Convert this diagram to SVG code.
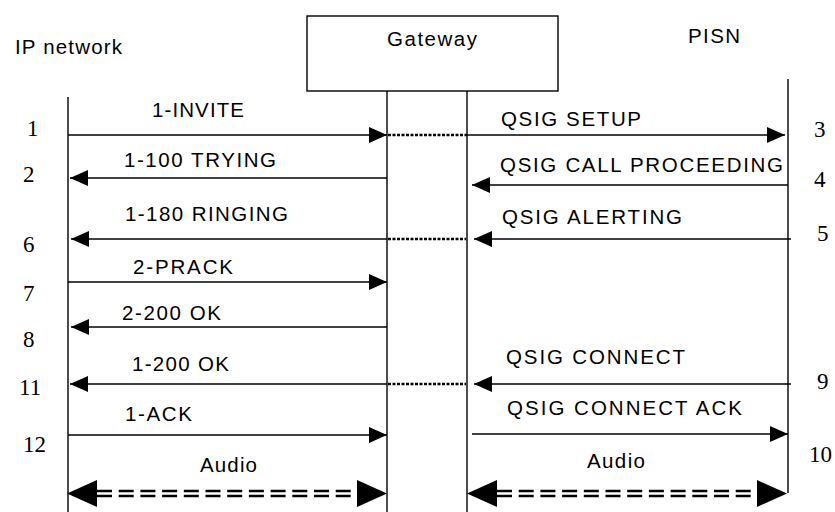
<svg xmlns="http://www.w3.org/2000/svg" width="835" height="512" viewBox="0 0 835 512">
<style>
.t{font-family:"Liberation Sans",Arial,sans-serif;font-size:20.5px;fill:#000}
.n{font-family:"Liberation Serif","Times New Roman",serif;font-size:23px;fill:#000}
.life{stroke:#000;stroke-width:1.4;fill:none}
.msg{stroke:#000;stroke-width:1.4;fill:none;marker-end:url(#ah)}
.dot{stroke:#000;stroke-width:2.5;fill:none;stroke-dasharray:3,1.5}
.aud{stroke:#000;stroke-width:2.5;fill:none;stroke-dasharray:15,6.7}
</style>
<defs>
<marker id="ah" markerUnits="userSpaceOnUse" markerWidth="19" markerHeight="17" refX="18" refY="8" orient="auto">
<path d="M0,0 L18,8 L0,16 z" fill="#000"/>
</marker>
</defs>
<rect width="835" height="512" fill="#fff"/>
<g id="ip-network">
<text class="t" x="15" y="54" textLength="107">IP network</text>
<line class="life" x1="68" y1="97" x2="68" y2="512"/>
</g>
<g id="gateway">
<rect x="307" y="16" width="251" height="75" fill="#fff" stroke="#000" stroke-width="1.4"/>
<text class="t" x="387" y="46" textLength="90">Gateway</text>
<line class="life" x1="387" y1="91" x2="387" y2="512"/>
<line class="life" x1="467" y1="91" x2="467" y2="512"/>
</g>
<g id="pisn">
<text class="t" x="688" y="43" textLength="52">PISN</text>
<line class="life" x1="788" y1="79" x2="788" y2="493"/>
</g>
<g id="connectors">
<line class="msg" x1="68" y1="135" x2="387" y2="135"/>
<line class="dot" x1="388" y1="135" x2="467" y2="135"/>
<line class="msg" x1="467" y1="135" x2="785" y2="135"/>
<line class="msg" x1="387" y1="178" x2="70" y2="178"/>
<line class="msg" x1="788" y1="185" x2="472" y2="185"/>
<line class="msg" x1="791" y1="239" x2="474" y2="239"/>
<line class="dot" x1="388" y1="239" x2="466" y2="239"/>
<line class="msg" x1="387" y1="239" x2="71" y2="239"/>
<line class="msg" x1="68" y1="282" x2="387" y2="282"/>
<line class="msg" x1="387" y1="327" x2="71" y2="327"/>
<line class="msg" x1="791" y1="384" x2="474" y2="384"/>
<line class="dot" x1="388" y1="384" x2="466" y2="384"/>
<line class="msg" x1="387" y1="384" x2="70" y2="384"/>
<line class="msg" x1="68" y1="435" x2="387" y2="435"/>
<line class="msg" x1="472" y1="434" x2="788" y2="434"/>
<line class="aud" x1="97" y1="491" x2="357" y2="491"/>
<line class="aud" x1="97" y1="496" x2="357" y2="496"/>
<polygon points="67,493.5 97,480 97,507" fill="#000"/>
<polygon points="387,493.5 357,480 357,507" fill="#000"/>
<line class="aud" x1="497" y1="491" x2="757" y2="491"/>
<line class="aud" x1="497" y1="496" x2="757" y2="496"/>
<polygon points="467,493.5 497,480 497,507" fill="#000"/>
<polygon points="787,493.5 757,480 757,507" fill="#000"/>
</g>
<g id="labels">
<text class="t" x="152" y="117" textLength="92">1-INVITE</text>
<text class="t" x="501" y="126" textLength="140">QSIG SETUP</text>
<text class="t" x="124" y="167" textLength="152">1-100 TRYING</text>
<text class="t" x="500" y="172" textLength="283">QSIG CALL PROCEEDING</text>
<text class="t" x="125" y="221" textLength="163">1-180 RINGING</text>
<text class="t" x="502" y="224" textLength="180">QSIG ALERTING</text>
<text class="t" x="133" y="274" textLength="100">2-PRACK</text>
<text class="t" x="122" y="320" textLength="99">2-200 OK</text>
<text class="t" x="132" y="371" textLength="97">1-200 OK</text>
<text class="t" x="506" y="364" textLength="179">QSIG CONNECT</text>
<text class="t" x="125" y="421" textLength="67">1-ACK</text>
<text class="t" x="507" y="415" textLength="235">QSIG CONNECT ACK</text>
<text class="t" x="200" y="472" textLength="57">Audio</text>
<text class="t" x="587" y="468" textLength="58">Audio</text>
</g>
<g id="step-numbers">
<text class="n" x="27" y="136">1</text>
<text class="n" x="23" y="182">2</text>
<text class="n" x="23" y="252">6</text>
<text class="n" x="23" y="301">7</text>
<text class="n" x="23" y="347">8</text>
<text class="n" x="19" y="395">11</text>
<text class="n" x="23" y="452">12</text>
<text class="n" x="814" y="137">3</text>
<text class="n" x="814" y="187">4</text>
<text class="n" x="817" y="241">5</text>
<text class="n" x="817" y="389">9</text>
<text class="n" x="809" y="462">10</text>
</g>
</svg>
